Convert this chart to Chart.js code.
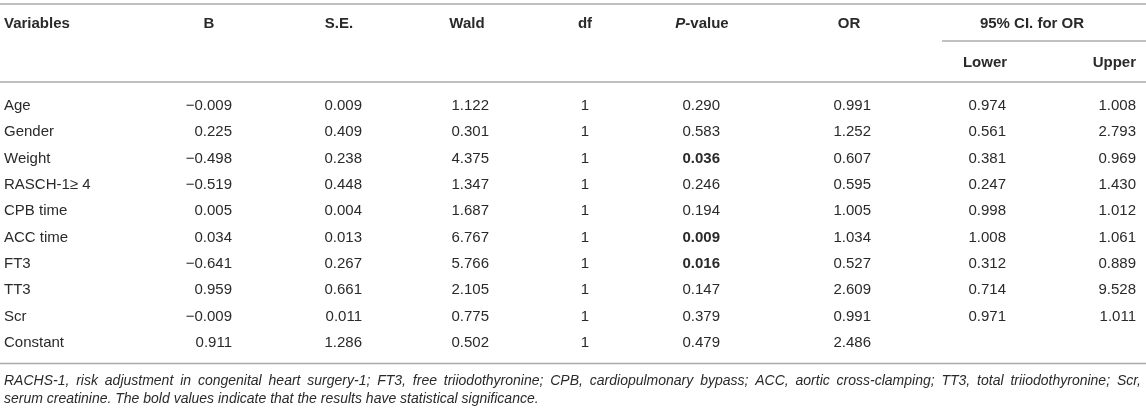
<!DOCTYPE html>
<html>
<head>
<meta charset="utf-8">
<script src="https://cdn.jsdelivr.net/npm/chart.js@4/dist/chart.umd.min.js"></script>
<style>
  html, body { margin: 0; padding: 0; background: #fff; }
  #wrap { width: 1146px; height: 413px; position: relative; }
</style>
</head>
<body>
<div id="wrap"><canvas id="c"></canvas></div>
<script>
// ---- Data ----
const variables = ['Age', 'Gender', 'Weight', 'RASCH-1\u2265 4', 'CPB time', 'ACC time', 'FT3', 'TT3', 'Scr', 'Constant'];
const colHeaders = ['B', 'S.E.', 'Wald', 'df', 'P-value', 'OR', 'Lower', 'Upper'];
const B       = [-0.009, 0.225, -0.498, -0.519, 0.005, 0.034, -0.641, 0.959, -0.009, 0.911];
const SE      = [0.009, 0.409, 0.238, 0.448, 0.004, 0.013, 0.267, 0.661, 0.011, 1.286];
const Wald    = [1.122, 0.301, 4.375, 1.347, 1.687, 6.767, 5.766, 2.105, 0.775, 0.502];
const df      = [1, 1, 1, 1, 1, 1, 1, 1, 1, 1];
const pValue  = [0.290, 0.583, 0.036, 0.246, 0.194, 0.009, 0.016, 0.147, 0.379, 0.479];
const OR      = [0.991, 1.252, 0.607, 0.595, 1.005, 1.034, 0.527, 2.609, 0.991, 2.486];
const ciLower = [0.974, 0.561, 0.381, 0.247, 0.998, 1.008, 0.312, 0.714, 0.971, null];
const ciUpper = [1.008, 2.793, 0.969, 1.430, 1.012, 1.061, 0.889, 9.528, 1.011, null];
const groupHeader = '95% CI. for OR';
const firstHeader = 'Variables';
const footnote1 = 'RACHS-1, risk adjustment in congenital heart surgery-1; FT3, free triiodothyronine; CPB, cardiopulmonary bypass; ACC, aortic cross-clamping; TT3, total triiodothyronine; Scr,';
const footnote2 = 'serum creatinine. The bold values indicate that the results have statistical significance.';
const sigLevel = 0.05;

// ---- Layout (positions/styles only) ----
const columns = [
  { values: B,       anchor: 232,  align: 'right',  headX: 209,  headAlign: 'center', digits: 3 },
  { values: SE,      anchor: 362,  align: 'right',  headX: 339,  headAlign: 'center', digits: 3 },
  { values: Wald,    anchor: 489,  align: 'right',  headX: 467,  headAlign: 'center', digits: 3 },
  { values: df,      anchor: 585,  align: 'center', headX: 585,  headAlign: 'center', digits: 0 },
  { values: pValue,  anchor: 720,  align: 'right',  headX: 702,  headAlign: 'center', digits: 3, boldIf: v => v < sigLevel },
  { values: OR,      anchor: 871,  align: 'right',  headX: 849,  headAlign: 'center', digits: 3 },
  { values: ciLower, anchor: 1006, align: 'right',  headX: 985,  headAlign: 'center', digits: 3, sub: true },
  { values: ciUpper, anchor: 1136, align: 'right',  headX: 1136, headAlign: 'right',  digits: 3, sub: true }
];
const FONT = '"Liberation Sans", Arial, Helvetica, sans-serif';
const TEXT = '#2a2a2a';
const RULE = '#ababab';
const L = {
  W: 1146, H: 413,
  topRule: 4, headY: 24, groupRule: 41, groupRuleX0: 942, groupX: 1032, subY: 63,
  headRule: 82, bottomRule: 363.5, foot1Y: 381, foot2Y: 399.5,
  textLeft: 4, footRight: 1141,
  bodyTop: 92.85, bodyBottom: 355.85
};

function fmt(v, d) {
  if (v === null || v === undefined) return '';
  const s = d === 0 ? String(v) : Math.abs(v).toFixed(d);
  return v < 0 ? '\u2212' + s : s;
}

const datasets = columns.map((col, ci) => ({
  label: colHeaders[ci],
  data: variables.map((name, i) => ({ x: col.anchor, y: name, v: col.values[i] })),
  pointRadius: 0,
  pointHoverRadius: 0,
  showLine: false
}));
// first column: variable names
datasets.unshift({
  label: firstHeader,
  data: variables.map(name => ({ x: L.textLeft, y: name, v: name })),
  pointRadius: 0, pointHoverRadius: 0, showLine: false
});

const tablePlugin = {
  id: 'tablePlugin',
  afterDatasetsDraw(chart) {
    const ctx = chart.ctx;
    const xs = chart.scales.x;
    ctx.save();
    // rules
    ctx.strokeStyle = RULE;
    ctx.lineWidth = 1.5;
    const hline = (y, x0, x1) => {
      ctx.beginPath();
      ctx.moveTo(xs.getPixelForValue(x0), y);
      ctx.lineTo(xs.getPixelForValue(x1), y);
      ctx.stroke();
    };
    hline(L.topRule, 0, L.W);
    hline(L.groupRule, L.groupRuleX0, L.W);
    hline(L.headRule, 0, L.W);
    hline(L.bottomRule, 0, L.W);

    ctx.textBaseline = 'middle';
    ctx.fillStyle = TEXT;
    const bold = 'bold 15px ' + FONT;
    const reg = '15px ' + FONT;

    // headers
    ctx.font = bold;
    ctx.textAlign = 'left';
    ctx.fillText(firstHeader, xs.getPixelForValue(L.textLeft), L.headY);
    columns.forEach((col, ci) => {
      const name = colHeaders[ci];
      const y = col.sub ? L.subY : L.headY;
      const x = xs.getPixelForValue(col.headX);
      if (name === 'P-value') {
        ctx.font = 'italic bold 15px ' + FONT;
        const w1 = ctx.measureText('P').width;
        ctx.font = bold;
        const w2 = ctx.measureText('-value').width;
        const start = x - (w1 + w2) / 2;
        ctx.textAlign = 'left';
        ctx.font = 'italic bold 15px ' + FONT;
        ctx.fillText('P', start, y);
        ctx.font = bold;
        ctx.fillText('-value', start + w1, y);
      } else {
        ctx.font = bold;
        ctx.textAlign = col.headAlign;
        ctx.fillText(name, x, y);
      }
    });
    ctx.font = bold;
    ctx.textAlign = 'center';
    ctx.fillText(groupHeader, xs.getPixelForValue(L.groupX), L.headY);

    // body cells from dataset element positions
    chart.data.datasets.forEach((ds, di) => {
      const meta = chart.getDatasetMeta(di);
      meta.data.forEach((pt, i) => {
        const raw = ds.data[i];
        if (di === 0) {
          ctx.font = reg; ctx.textAlign = 'left';
          ctx.fillText(raw.v, pt.x, pt.y);
        } else {
          const col = columns[di - 1];
          if (raw.v === null) return;
          ctx.font = (col.boldIf && col.boldIf(raw.v)) ? bold : reg;
          ctx.textAlign = col.align;
          ctx.fillText(fmt(raw.v, col.digits), pt.x, pt.y);
        }
      });
    });

    // footnotes
    ctx.font = 'italic 14px ' + FONT;
    ctx.textAlign = 'left';
    const words = footnote1.split(' ');
    const widths = words.map(w => ctx.measureText(w).width);
    const total = widths.reduce((a, b) => a + b, 0);
    const x0 = xs.getPixelForValue(L.textLeft), x1 = xs.getPixelForValue(L.footRight);
    const gap = (x1 - x0 - total) / (words.length - 1);
    let cx = x0;
    words.forEach((w, i) => { ctx.fillText(w, cx, L.foot1Y); cx += widths[i] + gap; });
    ctx.fillText(footnote2, x0, L.foot2Y);
    ctx.restore();
  }
};

new Chart(document.getElementById('c'), {
  type: 'scatter',
  data: { labels: variables, datasets },
  options: {
    responsive: true,
    maintainAspectRatio: false,
    animation: false,
    events: [],
    layout: { padding: { top: L.bodyTop, bottom: L.H - L.bodyBottom, left: 0, right: 0 } },
    plugins: { legend: { display: false }, tooltip: { enabled: false } },
    scales: {
      x: { type: 'linear', min: 0, max: L.W, display: false },
      y: { type: 'category', labels: variables, offset: true, display: false }
    }
  },
  plugins: [tablePlugin]
});
</script>
</body>
</html>
